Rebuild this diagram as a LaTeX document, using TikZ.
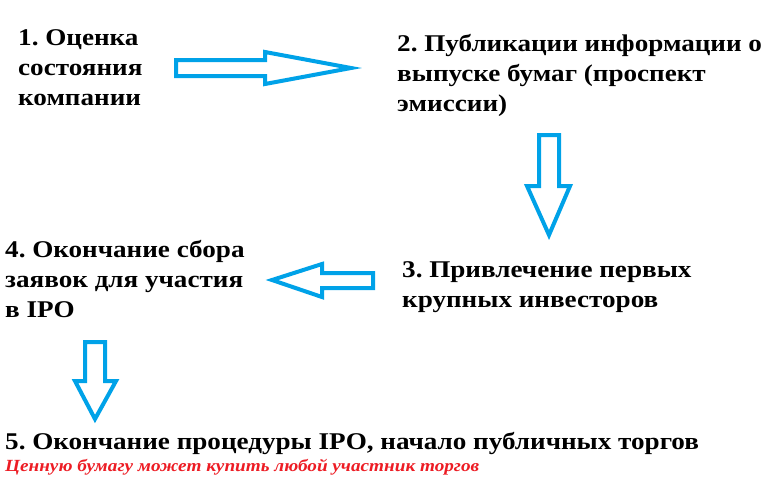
\documentclass[tikz,border=0pt]{standalone}
\usepackage{fontspec}
\setmainfont{Liberation Serif}
\newfontfamily\stepfont[FakeStretch=1.13]{Liberation Serif}
\definecolor{arrowblue}{RGB}{0,162,232}
\definecolor{notered}{RGB}{237,28,36}
\frenchspacing
\tikzset{
  step text/.style={anchor=base west, inner sep=0pt, align=left,
    font=\stepfont\fontsize{24}{30}\selectfont\bfseries},
  blockarrow/.style={draw=arrowblue, line width=4pt, fill=white, line join=miter},
  note text/.style={anchor=base west, inner sep=0pt, text=notered,
    font=\stepfont\fontsize{17}{20}\selectfont\bfseries\itshape}
}
\begin{document}
\begin{tikzpicture}[x=1pt,y=-1pt]
\useasboundingbox (0,0) rectangle (775,491);
\fill[white] (0,0) rectangle (775,491);
% multi-line nodes: base anchor is the baseline of the last line
\node[step text] (s1) at (18,105) {1. Оценка\\состояния\\компании};
\node[step text] (s2) at (397,111) {2. Публикации информации о\\выпуске бумаг (проспект\\эмиссии)};
\node[step text] (s3) at (402,307) {3. Привлечение первых\\крупных инвесторов};
\node[step text] (s4) at (5,317) {4. Окончание сбора\\заявок для участия\\в IPO};
\node[step text] (s5) at (5,449) {5. Окончание процедуры IPO, начало публичных торгов};
\node[note text] (n5) at (5,471) {Ценную бумагу может купить любой участник торгов};
% arrow 1 -> 2
\draw[blockarrow] (176,60) -- (265,60) -- (265,52) -- (351,68) -- (265,84) -- (265,76) -- (176,76) -- cycle;
% arrow 2 -> 3
\draw[blockarrow] (539,135) -- (559,135) -- (559,186) -- (570,186) -- (549,235) -- (527,186) -- (539,186) -- cycle;
% arrow 3 -> 4
\draw[blockarrow] (373,273) -- (322,273) -- (322,264) -- (272,280) -- (322,297) -- (322,288) -- (373,288) -- cycle;
% arrow 4 -> 5
\draw[blockarrow] (85,342) -- (105,342) -- (105,381) -- (116,381) -- (95,419) -- (75,381) -- (85,381) -- cycle;
\end{tikzpicture}
\end{document}
